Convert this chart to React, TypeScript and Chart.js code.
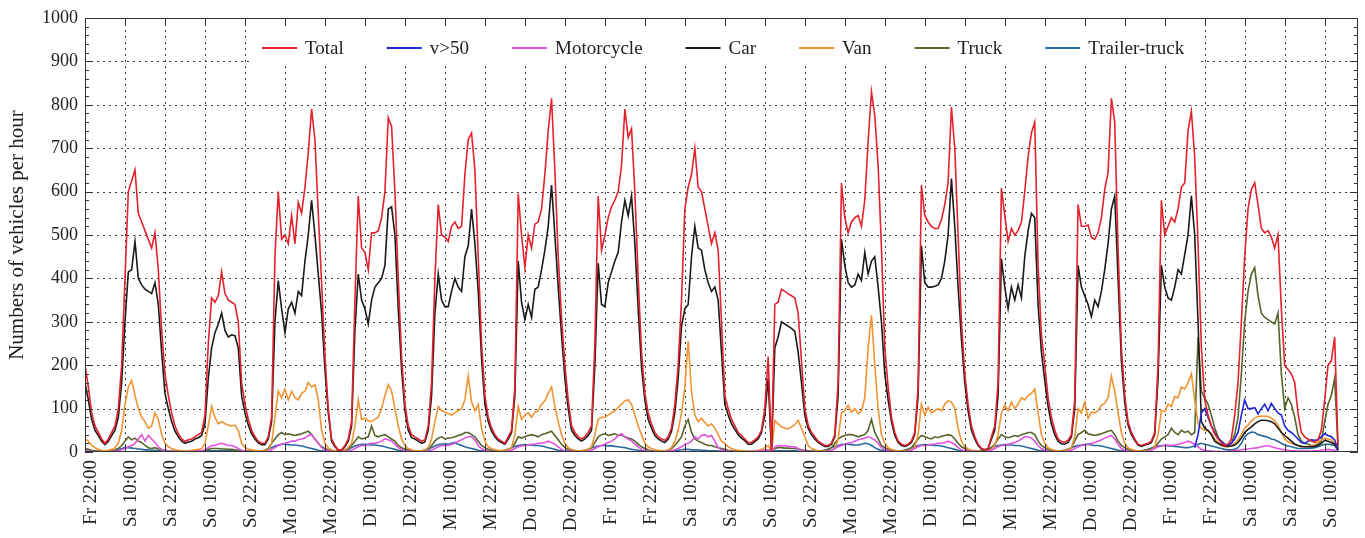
import React, { useEffect, useRef } from "react";
import { Chart, registerables } from "chart.js";

Chart.register(...registerables);

// x axis: hours since "Fr 22:00"; one tick label every 12 hours
const TICK_LABELS = [
  "Fr 22:00", "Sa 10:00", "Sa 22:00", "So 10:00", "So 22:00", "Mo 10:00", "Mo 22:00",
  "Di 10:00", "Di 22:00", "Mi 10:00", "Mi 22:00", "Do 10:00", "Do 22:00", "Fr 10:00",
  "Fr 22:00", "Sa 10:00", "Sa 22:00", "So 10:00", "So 22:00", "Mo 10:00", "Mo 22:00",
  "Di 10:00", "Di 22:00", "Mi 10:00", "Mi 22:00", "Do 10:00", "Do 22:00", "Fr 10:00",
  "Fr 22:00", "Sa 10:00", "Sa 22:00", "So 10:00",
];
const HOURS_PER_TICK = 12;
const X_MAX_HOURS = 382;
const Y_TICKS = [0, 100, 200, 300, 400, 500, 600, 700, 800, 900, 1000];

// hourly values, hour 0 = Fr 22:00
const TOTAL = [
  200,150,90,60,45,30,20,30,45,60,100,200,400,600,625,650,550,530,510,490,470,505,420,280,
  180,130,90,60,42,30,24,28,30,35,40,45,85,250,355,345,360,415,365,350,345,340,300,160,
  110,75,50,35,25,20,20,35,80,450,600,490,500,480,545,480,575,550,610,690,790,720,550,390,
  220,100,30,15,5,5,15,30,70,350,590,470,460,420,505,505,510,540,600,770,750,600,400,220,
  110,60,40,35,30,25,28,60,160,400,570,500,495,485,520,530,515,520,640,720,735,650,450,250,
  130,80,55,40,30,25,20,35,50,150,595,500,425,500,470,525,530,560,640,740,815,650,450,310,
  200,120,60,45,35,30,35,45,60,250,590,465,500,540,565,580,600,660,790,725,745,600,400,230,
  135,90,65,45,35,30,27,35,55,110,200,350,560,610,640,700,610,600,560,520,480,505,465,300,
  130,100,75,60,45,38,30,22,22,28,35,50,100,220,0,340,345,375,370,365,360,355,320,210,
  100,62,45,35,25,20,15,15,20,40,160,620,540,505,530,540,545,520,580,715,830,775,660,470,
  240,150,80,45,25,18,15,18,25,45,150,615,545,530,520,515,515,535,570,620,795,700,500,300,
  180,110,60,35,18,8,5,8,35,60,160,608,546,485,515,500,510,530,600,680,735,760,430,270,
  200,125,80,50,30,24,22,27,40,120,570,520,520,523,495,490,505,540,605,645,815,760,470,240,
  130,70,45,30,18,15,18,20,25,45,200,580,500,520,540,530,560,610,620,740,785,680,480,240,
  120,85,60,42,30,22,15,18,30,85,160,300,450,560,605,620,570,515,505,510,495,470,500,330,
  200,190,180,160,90,45,35,30,25,22,28,50,120,200,210,265,15,
];

// v>50 is only recorded from hour 333 on
const V50_START_HOUR = 333;
const V50 = [
  10,40,90,100,80,60,45,32,25,18,16,20,30,45,85,120,100,100,102,88,
  100,110,95,112,100,90,85,60,50,45,38,30,22,20,25,28,27,28,35,42,
  38,35,28,5,
];

const MOTORCYCLE = [
  3,2,1,1,1,0,0,1,1,2,3,5,8,12,15,20,30,40,25,38,30,22,12,6,
  3,2,1,1,1,0,0,1,1,1,2,3,5,10,15,15,18,20,18,15,15,12,8,4,
  2,1,1,0,0,0,1,2,5,10,15,18,20,22,25,25,28,30,32,38,40,30,20,10,
  5,3,1,1,0,0,1,2,4,8,12,15,15,18,20,20,22,25,30,28,25,18,10,6,
  3,2,1,1,0,0,1,2,4,8,12,15,15,15,18,20,25,28,32,35,35,28,15,8,
  4,2,1,1,0,0,1,2,4,8,12,14,15,16,18,18,20,20,22,25,22,18,12,6,
  3,2,1,1,0,0,1,2,4,8,12,15,18,22,25,30,38,42,35,30,25,18,12,6,
  3,2,1,1,0,0,1,2,3,5,8,12,18,20,25,35,30,38,40,35,38,25,10,5,
  3,2,1,1,0,0,0,1,1,1,2,3,4,5,0,12,15,14,15,13,12,12,8,4,
  2,1,1,0,0,0,1,2,4,8,12,15,18,20,22,25,28,30,32,35,32,28,20,10,
  5,3,1,1,0,0,1,2,4,8,12,15,15,16,18,18,20,20,22,25,22,18,10,5,
  3,2,1,1,0,0,1,2,4,8,12,15,16,18,20,22,25,30,35,35,32,25,15,8,
  4,2,1,1,0,0,1,2,4,8,12,15,16,18,20,22,25,28,32,35,38,30,18,8,
  4,2,1,1,0,0,1,2,4,8,12,14,15,16,15,16,18,20,22,25,22,18,12,6,
  4,3,2,1,1,1,1,1,2,3,4,5,6,7,8,9,10,12,14,15,12,10,8,6,
  5,4,3,3,2,2,2,2,2,3,3,4,5,6,5,4,1,
];

const CAR = [
  160,120,75,50,38,25,17,25,38,50,80,160,300,415,420,485,400,385,375,370,365,390,340,230,
  135,100,70,48,35,25,20,23,25,30,33,38,65,170,240,275,295,320,280,265,270,268,240,130,
  90,62,42,30,21,17,17,30,70,300,395,330,275,330,345,320,370,360,440,500,580,500,410,320,
  190,90,25,12,4,4,12,25,60,280,410,350,330,295,350,380,390,400,430,560,565,500,330,190,
  95,50,33,30,25,20,23,50,130,320,410,350,335,335,370,400,380,370,450,475,560,480,370,215,
  110,70,48,35,26,22,18,30,45,130,440,345,305,340,310,375,380,420,465,520,615,500,380,270,
  170,100,50,38,30,25,30,38,50,200,435,340,335,390,415,440,460,530,580,545,590,480,330,195,
  120,75,55,38,30,25,22,30,48,90,170,290,330,340,450,520,470,465,420,390,370,380,350,230,
  110,85,65,52,40,32,26,18,18,24,30,45,85,170,0,240,265,300,295,290,285,278,230,160,
  85,55,40,30,22,17,13,13,18,35,130,490,430,390,380,385,410,395,460,410,440,450,380,300,
  180,120,70,38,22,15,13,16,22,40,130,475,390,380,380,382,385,400,440,500,630,520,380,260,
  160,95,50,30,15,7,5,7,30,50,130,445,380,330,380,350,385,355,450,510,550,540,340,230,
  165,105,65,40,25,19,18,22,35,100,430,380,360,340,312,350,335,370,420,480,560,590,400,210,
  115,62,40,27,16,13,16,18,22,40,170,430,380,355,350,380,420,410,455,500,590,500,300,70,
  55,50,40,25,20,16,14,13,14,16,22,32,45,52,58,65,70,73,73,72,70,65,55,45,
  38,32,25,18,15,13,12,12,12,13,15,20,27,25,22,18,5,
];

const VAN = [
  30,25,15,10,6,4,3,4,6,10,20,50,110,150,165,130,100,80,70,55,60,90,75,40,
  20,12,8,5,4,3,3,3,4,5,6,8,20,60,105,80,65,70,65,62,60,62,50,20,
  10,7,5,4,3,3,3,5,20,80,140,125,145,120,140,125,120,135,140,160,150,155,120,50,
  20,10,5,3,2,3,5,10,20,60,120,75,78,72,70,75,80,100,130,155,140,100,60,30,
  15,8,5,3,3,3,5,10,30,70,105,95,92,88,85,90,95,100,120,175,115,95,110,55,
  25,12,8,5,4,3,3,6,10,40,105,75,85,90,80,92,95,110,118,135,150,105,70,40,
  20,10,6,4,3,3,4,6,12,40,75,80,80,85,90,95,103,110,118,120,110,85,60,40,
  20,12,8,5,4,3,3,5,10,25,50,90,150,255,140,85,70,78,68,60,65,55,40,25,
  20,12,8,5,4,3,2,2,2,3,4,6,10,15,0,72,65,58,55,53,58,63,73,55,
  35,15,8,5,3,2,2,2,3,8,30,90,95,108,92,100,88,95,125,240,315,200,100,40,
  20,10,6,4,3,2,2,3,5,12,40,110,85,103,90,95,100,95,110,118,115,100,55,25,
  12,7,4,3,2,1,1,2,6,15,40,90,108,95,115,100,110,125,120,130,135,145,90,40,
  20,10,6,4,3,2,3,5,10,35,100,90,115,78,92,90,95,108,112,125,175,140,90,45,
  20,10,6,4,3,2,2,3,5,12,40,95,93,110,105,128,125,150,145,160,180,120,65,55,
  50,48,42,30,22,15,12,12,15,20,28,40,55,62,72,78,82,83,82,82,78,72,62,45,
  30,24,20,18,15,12,12,12,14,16,22,28,32,30,28,20,3,
];

const TRUCK = [
  8,6,4,3,2,2,2,2,3,5,8,15,25,35,28,32,25,22,15,10,8,10,7,5,
  4,3,2,2,2,1,1,1,2,2,2,3,4,6,8,8,8,7,7,6,6,5,4,3,
  3,2,2,2,2,3,4,8,20,30,40,45,40,42,40,38,40,42,45,48,40,30,20,12,
  8,5,3,2,2,3,5,8,15,25,35,30,32,35,60,38,35,38,40,35,30,25,15,10,
  7,5,3,2,2,3,5,8,15,25,32,35,30,32,33,35,38,40,45,45,40,35,25,15,
  10,6,4,3,2,3,4,6,10,20,35,32,35,38,40,38,35,40,42,45,48,38,28,18,
  10,6,4,3,2,3,4,6,10,22,35,40,42,38,40,42,38,40,35,32,30,25,18,12,
  8,5,3,2,2,2,3,4,8,15,25,35,60,75,45,30,25,22,18,15,15,12,10,8,
  6,4,3,2,2,2,2,1,1,2,2,3,4,5,0,8,10,10,9,9,8,8,7,5,
  4,3,2,2,2,3,4,6,10,20,30,35,38,40,40,38,35,38,40,50,75,45,30,15,
  10,6,4,3,2,3,4,6,10,20,30,38,35,32,30,35,33,36,38,40,38,30,20,12,
  8,5,3,2,2,2,3,5,10,18,30,40,35,33,35,38,36,40,42,45,45,40,25,15,
  10,6,4,3,2,3,4,6,10,25,40,45,50,42,40,38,40,42,45,48,50,40,25,15,
  10,6,4,3,2,3,4,5,8,12,20,30,35,40,55,45,40,50,45,48,40,45,265,140,
  125,110,85,55,35,22,15,15,20,40,80,180,300,370,410,425,360,320,310,305,300,295,320,180,
  100,125,110,80,40,25,20,18,15,15,18,25,70,110,130,170,8,
];

const TRAILER_TRUCK = [
  2,2,1,1,1,1,1,1,2,3,5,8,10,10,9,8,7,6,5,5,4,4,3,2,
  1,1,1,1,1,1,1,1,1,1,1,2,2,3,3,3,3,3,3,3,3,2,2,1,
  1,1,1,1,2,3,4,6,10,14,16,18,18,17,16,16,15,14,12,10,8,6,4,3,
  2,2,2,2,2,3,4,6,10,14,16,18,18,17,16,16,15,14,12,10,8,6,4,3,
  2,2,2,2,2,3,4,6,10,14,17,18,19,18,20,22,18,15,12,10,8,6,4,3,
  2,2,2,2,2,3,4,6,10,13,15,16,17,16,16,15,15,14,12,10,8,6,4,3,
  2,2,2,2,2,3,4,6,9,12,14,15,15,14,14,13,12,11,10,8,6,5,4,3,
  2,1,1,1,1,1,1,1,2,3,4,5,6,6,5,5,5,4,4,3,3,3,2,2,
  1,1,1,1,1,1,1,1,1,1,1,1,2,2,0,3,3,3,3,3,3,3,2,1,
  1,1,1,1,2,3,4,6,10,13,15,17,18,18,17,16,16,18,20,19,15,10,6,4,
  3,2,2,2,2,3,4,6,10,13,15,16,17,16,16,15,15,14,12,10,8,6,4,3,
  2,2,2,2,2,3,4,6,10,13,15,16,17,16,16,15,15,14,12,10,8,6,4,3,
  2,2,2,2,2,3,4,6,10,13,15,16,17,18,16,15,15,14,12,10,8,6,4,3,
  2,2,2,2,2,3,4,6,9,12,14,15,15,14,14,13,12,11,10,10,12,14,18,20,
  18,16,14,12,10,8,6,5,5,6,10,20,35,42,46,45,40,38,36,34,30,28,24,20,
  16,14,12,10,8,8,8,8,9,10,12,15,18,18,17,15,2,
];

const SERIES = [
  { label: "Total", data: TOTAL, start: 0, color: "#e3222b" },
  { label: "v>50", data: V50, start: V50_START_HOUR, color: "#2024d4" },
  { label: "Motorcycle", data: MOTORCYCLE, start: 0, color: "#e052e0" },
  { label: "Car", data: CAR, start: 0, color: "#1a1a1a" },
  { label: "Van", data: VAN, start: 0, color: "#f29331" },
  { label: "Truck", data: TRUCK, start: 0, color: "#55662a" },
  { label: "Trailer-truck", data: TRAILER_TRUCK, start: 0, color: "#2b6a9c" },
];

const FONT = "'Liberation Serif', 'Times New Roman', serif";

const decorPlugin = {
  id: "decor",
  beforeDatasetsDraw(chart: any) {
    const { ctx, chartArea, scales } = chart;
    const { left, right, top, bottom } = chartArea;
    ctx.save();
    ctx.strokeStyle = "#3c3c3c";
    ctx.lineWidth = 1;
    ctx.setLineDash([2, 4]);
    scales.x.ticks.forEach((t: any) => {
      const px = Math.round(scales.x.getPixelForValue(t.value)) + 0.5;
      if (px <= left + 2 || px >= right - 2) return;
      ctx.beginPath();
      ctx.moveTo(px, top);
      ctx.lineTo(px, bottom);
      ctx.stroke();
    });
    scales.y.ticks.forEach((t: any) => {
      const py = Math.round(scales.y.getPixelForValue(t.value)) + 0.5;
      if (py <= top + 2 || py >= bottom - 2) return;
      ctx.beginPath();
      ctx.moveTo(left, py);
      ctx.lineTo(right, py);
      ctx.stroke();
    });
    ctx.restore();
  },
  afterDatasetsDraw(chart: any) {
    const { ctx, chartArea, scales } = chart;
    const { left, right, top, bottom } = chartArea;
    ctx.save();
    // legend inside the plot, on a white box
    ctx.font = `19px ${FONT}`;
    const lineLen = 35;
    const gapAfterLine = 8;
    const gapAfterText = 43;
    const startX = 262;
    const legendY = 48;
    const items = chart.data.datasets.map((d: any) => ({
      label: d.label,
      color: d.borderColor,
      w: ctx.measureText(d.label).width,
    }));
    let total = 0;
    items.forEach((it: any, i: number) => {
      total += lineLen + gapAfterLine + it.w + (i < items.length - 1 ? gapAfterText : 0);
    });
    ctx.fillStyle = "#ffffff";
    ctx.fillRect(startX - 12, top + 1, total + 28, 46);
    let x = startX;
    items.forEach((it: any) => {
      ctx.strokeStyle = it.color;
      ctx.lineWidth = 1.8;
      ctx.beginPath();
      ctx.moveTo(x, legendY);
      ctx.lineTo(x + lineLen, legendY);
      ctx.stroke();
      x += lineLen + gapAfterLine;
      ctx.fillStyle = "#222";
      ctx.textBaseline = "middle";
      ctx.textAlign = "left";
      ctx.fillText(it.label, x, legendY + 1);
      x += it.w + gapAfterText;
    });

    // frame
    ctx.strokeStyle = "#333";
    ctx.lineWidth = 1;
    ctx.strokeRect(left + 0.5, top + 0.5, right - left - 1, bottom - top - 1);

    // inward ticks
    ctx.beginPath();
    scales.x.ticks.forEach((t: any) => {
      const px = Math.round(scales.x.getPixelForValue(t.value)) + 0.5;
      ctx.moveTo(px, top);
      ctx.lineTo(px, top + 8);
      ctx.moveTo(px, bottom);
      ctx.lineTo(px, bottom - 8);
    });
    const yMin = scales.y.min;
    const yMax = scales.y.max;
    for (let v = yMin; v <= yMax; v += 20) {
      const py = Math.round(scales.y.getPixelForValue(v)) + 0.5;
      const len = v % 100 === 0 ? 8 : 4;
      ctx.moveTo(left, py);
      ctx.lineTo(left + len, py);
      ctx.moveTo(right, py);
      ctx.lineTo(right - len, py);
    }
    ctx.stroke();
    ctx.restore();
  },
};

export default function App() {
  const ref = useRef<HTMLCanvasElement | null>(null);

  useEffect(() => {
    if (!ref.current) return;
    const chart = new Chart(ref.current, {
      type: "line",
      data: {
        datasets: SERIES.map((s) => ({
          label: s.label,
          data: s.data.map((v, i) => ({ x: s.start + i, y: v })),
          borderColor: s.color,
          backgroundColor: s.color,
          borderWidth: 1.6,
          pointRadius: 0,
          tension: 0,
          fill: false,
        })),
      },
      options: {
        responsive: false,
        animation: false,
        events: [],
        layout: { padding: { top: 18, right: 7, left: 0, bottom: 0 } },
        plugins: {
          legend: { display: false },
          tooltip: { enabled: false },
        },
        scales: {
          x: {
            type: "linear",
            min: 0,
            max: X_MAX_HOURS,
            afterFit: (s: any) => {
              s.height = 86;
            },
            grid: { display: false, drawTicks: false },
            border: { display: false },
            ticks: {
              stepSize: HOURS_PER_TICK,
              includeBounds: false,
              autoSkip: false,
              maxRotation: 90,
              minRotation: 90,
              padding: 8,
              labelOffset: 6,
              color: "#222",
              font: { family: FONT, size: 19 },
              callback: (v: any) => TICK_LABELS[Math.round(Number(v) / HOURS_PER_TICK)] ?? "",
            },
          },
          y: {
            type: "linear",
            min: Y_TICKS[0],
            max: Y_TICKS[Y_TICKS.length - 1],
            afterFit: (s: any) => {
              s.width = 85;
            },
            grid: { display: false, drawTicks: false },
            border: { display: false },
            ticks: {
              stepSize: Y_TICKS[1] - Y_TICKS[0],
              padding: 7,
              color: "#222",
              font: { family: FONT, size: 18 },
              callback: (v: any) => String(v),
            },
            title: {
              display: true,
              text: "Numbers of vehicles per hour",
              color: "#222",
              font: { family: FONT, size: 21 },
              padding: { top: 5, bottom: 0 },
            },
          },
        },
      },
      plugins: [decorPlugin],
    });
    return () => chart.destroy();
  }, []);

  return (
    <div style={{ position: "absolute", left: 0, top: 0, width: 1365, height: 538, background: "#fff" }}>
      <canvas ref={ref} width={1365} height={538} style={{ display: "block" }} />
    </div>
  );
}
